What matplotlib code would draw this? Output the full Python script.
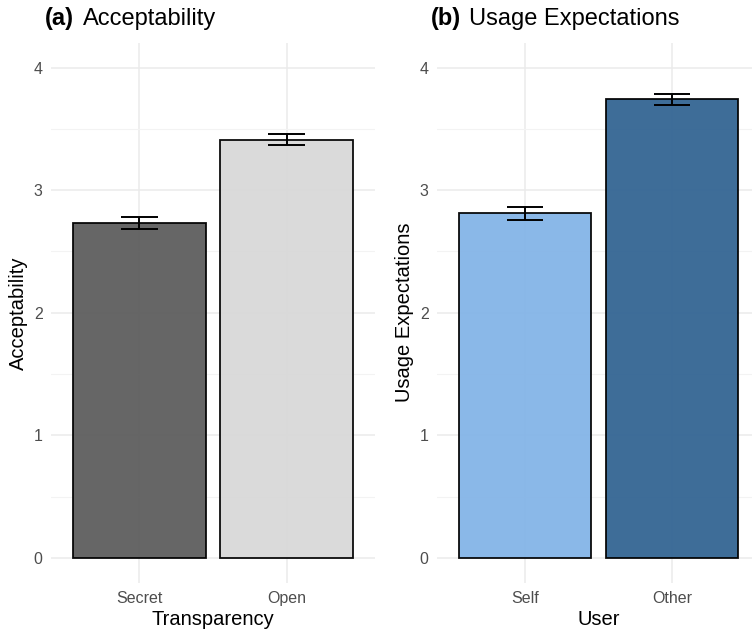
import matplotlib
matplotlib.use("Agg")
import matplotlib.pyplot as plt
from matplotlib.ticker import MultipleLocator

plt.rcParams['font.family'] = ['Liberation Sans', 'DejaVu Sans']

# panel (a)
transparency = ['Secret', 'Open']
acceptability = [2.73, 3.41]
acceptability_se = [0.05, 0.045]
colors_a = ['#5E5E5E', '#D8D8D8']

# panel (b)
user = ['Self', 'Other']
usage = [2.81, 3.74]
usage_se = [0.05, 0.045]
colors_b = ['#84B4E7', '#336593']

W, H = 752, 632
fig = plt.figure(figsize=(W / 100, H / 100), dpi=100)

panel_bottom = 1 - 582.5 / H
panel_height = (582.5 - 43) / H
ax_a = fig.add_axes([51 / W, panel_bottom, 324 / W, panel_height])
ax_b = fig.add_axes([437 / W, panel_bottom, 323 / W, panel_height])


def draw_panel(ax, cats, vals, errs, cols, xlabel, ylabel):
    x = list(range(len(cats)))
    ax.bar(x, vals, width=0.9, color=cols, edgecolor='black', linewidth=1.3,
           alpha=0.95, zorder=2)
    for xi, v, e in zip(x, vals, errs):
        ax.vlines(xi, v - e, v + e, color='black', linewidth=1.4, zorder=3)
        ax.hlines([v - e, v + e], xi - 0.125, xi + 0.125, color='black',
                  linewidth=1.4, zorder=3)
    ax.set_xlim(-0.6, 1.6)
    ax.set_ylim(-0.2, 4.2)
    ax.set_xticks(x)
    ax.set_xticklabels(cats)
    ax.yaxis.set_major_locator(MultipleLocator(1))
    ax.yaxis.set_minor_locator(MultipleLocator(0.5))
    ax.grid(True, which='major', color='#EBEBEB', linewidth=1.1, zorder=0)
    ax.grid(True, which='minor', axis='y', color='#F3F3F3', linewidth=0.8, zorder=0)
    ax.set_axisbelow(True)
    for s in ax.spines.values():
        s.set_visible(False)
    ax.tick_params(which='both', length=0, labelsize=11.5, labelcolor='#4D4D4D')
    ax.tick_params(axis='y', pad=6)
    ax.tick_params(axis='x', pad=6)
    ax.set_xlabel(xlabel, fontsize=14.5, labelpad=3)
    ax.set_ylabel(ylabel, fontsize=14.5, labelpad=4)


draw_panel(ax_a, transparency, acceptability, acceptability_se, colors_a,
           'Transparency', 'Acceptability')
draw_panel(ax_b, user, usage, usage_se, colors_b, 'User', 'Usage Expectations')

ty = 1 - 19 / H
fig.text(45 / W, ty, '(a)', fontsize=17, fontweight='bold', va='center')
fig.text(83 / W, ty, 'Acceptability', fontsize=17, va='center')
fig.text(431 / W, ty, '(b)', fontsize=17, fontweight='bold', va='center')
fig.text(469 / W, ty, 'Usage Expectations', fontsize=17, va='center')

fig.savefig('out.png', dpi=100)
